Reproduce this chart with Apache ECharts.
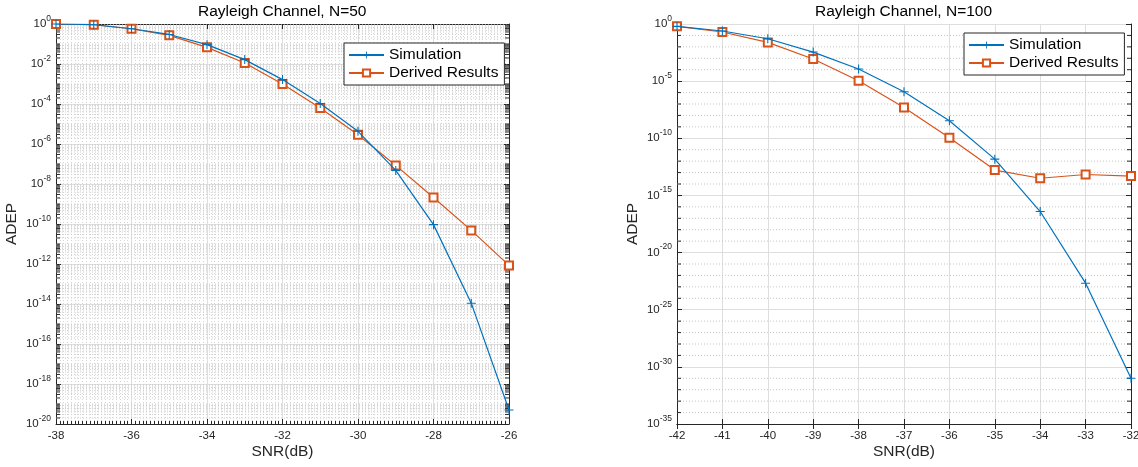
<!DOCTYPE html>
<html><head><meta charset="utf-8">
<script src="https://cdn.jsdelivr.net/npm/echarts@6/dist/echarts.min.js"></script>
<style>html,body{margin:0;padding:0;background:#fff}#c{width:1138px;height:467px}</style>
</head><body><div id="c"></div>
<script>
// ---- data ----
const snr50 = [-38, -37, -36, -35, -34, -33, -32, -31, -30, -29, -28, -27, -26];
const sim50 = [1, 0.92, 0.58, 0.30, 0.093, 0.0166, 1.66e-3, 1.05e-4, 4.3e-6, 4.8e-8, 9.3e-11, 1.1e-14, 5e-20];
const der50 = [1, 0.92, 0.58, 0.27, 0.068, 0.0112, 1.0e-3, 6.3e-5, 2.9e-6, 8.5e-8, 2.1e-9, 4.8e-11, 8.5e-13];
const snr100 = [-42, -41, -40, -39, -38, -37, -36, -35, -34, -33, -32];
const sim100 = [0.62, 0.245, 0.051, 3.5e-3, 1.15e-4, 1.17e-6, 3.4e-9, 1.5e-12, 3.9e-17, 2.1e-23, 1e-31];
const der100 = [0.62, 0.2, 0.0245, 8.7e-4, 1.1e-5, 5e-8, 1.1e-10, 1.65e-13, 3.2e-14, 6.8e-14, 4.9e-14];
const titles = ['Rayleigh Channel, N=50', 'Rayleigh Channel, N=100'];
const seriesNames = ['Simulation', 'Derived Results'];
const xName = 'SNR(dB)';
const yName = 'ADEP';
const yMin50 = 1e-20, yMin100 = 1e-35, yMax = 1;

// ---- styling helpers ----
const FONT = "'Liberation Sans', Arial, Helvetica, sans-serif";
const BLUE = '#0072BD', ORANGE = '#D95319', AX = '#262626';
const PLUS = 'path://M4.4,0h1.2v4.4h4.4v1.2h-4.4v4.4h-1.2v-4.4h-4.4v-1.2h4.4z';

// minor log grid values, left plot: 2..9 per decade plus odd decades
const minor50 = [];
for (let k = -20; k < 0; k++) {
  for (let m = 1; m <= 9; m++) {
    if (m === 1 && k % 2 === 0) continue;
    minor50.push(m * Math.pow(10, k));
  }
}
// minor grid, right plot: each decade not on a major tick
const minor100 = [];
for (let k = -34; k < 0; k++) {
  if (k % 5 !== 0) minor100.push(Math.pow(10, k));
}

function logText(v) {
  const e = Math.round(Math.log10(v));
  return '{b|10}{s|' + e + '}';
}
function logLabel(v) {
  if (!(v > 0) || !isFinite(v)) return '';
  return logText(v);
}
const richLab = {
  b: { fontSize: 11.5, color: AX, fontFamily: FONT, lineHeight: 20 },
  s: { fontSize: 8.5, color: AX, fontFamily: FONT, verticalAlign: 'top', lineHeight: 10 }
};

function xAx(grid, min, max, interval, minor) {
  return [{
    type: 'value', gridIndex: grid, min, max, interval,
    axisLine: { show: true, lineStyle: { color: AX, width: 1 } },
    axisTick: { show: true, inside: true, length: 5, lineStyle: { color: AX } },
    minorTick: { show: !!minor, splitNumber: minor || 5, length: 3, lineStyle: { color: AX } },
    axisLabel: { color: AX, fontSize: 11.5, margin: 6, fontFamily: FONT, showMinLabel: true, showMaxLabel: true },
    splitLine: { show: true, lineStyle: { color: '#dedede', width: 1 } },
    minorSplitLine: { show: !!minor, lineStyle: { color: '#d4d4d4', type: [1, 2], width: 1 } },
    name: xName, nameLocation: 'middle', nameGap: 20, nameMoveOverlap: false,
    nameTextStyle: { color: AX, fontSize: 15.5, fontFamily: FONT }
  }, {
    type: 'value', gridIndex: grid, min, max, interval, position: 'top',
    axisLine: { show: true, lineStyle: { color: AX, width: 1 } },
    axisTick: { show: true, inside: true, length: 5, lineStyle: { color: AX } },
    axisLabel: { show: false }, splitLine: { show: false }
  }];
}
function yAx(grid, min, max, interval, nameGap) {
  return [{
    type: 'log', logBase: 10, gridIndex: grid, min, max, interval,
    axisLine: { show: true, lineStyle: { color: AX, width: 1 } },
    axisTick: { show: true, inside: true, length: 5, lineStyle: { color: AX } },
    minorTick: { show: false },
    axisLabel: { formatter: logLabel, rich: richLab, margin: 5, showMinLabel: true, showMaxLabel: true, hideOverlap: false },
    splitLine: { show: true, lineStyle: { color: '#dedede', width: 1 } },
    minorSplitLine: { show: false },
    name: yName, nameLocation: 'middle', nameGap, nameRotate: 90, nameMoveOverlap: false,
    nameTextStyle: { color: AX, fontSize: 15.5, fontFamily: FONT }
  }, {
    type: 'log', logBase: 10, gridIndex: grid, min, max, interval, position: 'right',
    axisLine: { show: true, lineStyle: { color: AX, width: 1 } },
    axisTick: { show: true, inside: true, length: 5, lineStyle: { color: AX } },
    minorTick: { show: false },
    axisLabel: { show: false }, splitLine: { show: false }
  }];
}

function lineSeries(name, xs, ys, xi, yi, isSim) {
  return {
    name, type: 'line', xAxisIndex: xi, yAxisIndex: yi,
    data: xs.map((x, i) => [x, ys[i]]),
    symbol: isSim ? PLUS : 'emptyRect',
    symbolSize: isSim ? 9 : 8,
    color: isSim ? BLUE : ORANGE,
    itemStyle: isSim ? { color: BLUE } : { color: ORANGE, borderColor: ORANGE, borderWidth: 1.2 },
    lineStyle: { color: isSim ? BLUE : ORANGE, width: 1.2 },
    z: isSim ? 4 : 3
  };
}

function minorSeries(xi, yi, xs, values, tickLen, gridColor) {
  const x0 = xs[0], x1 = xs[xs.length - 1];
  return {
    type: 'custom', xAxisIndex: xi, yAxisIndex: yi, silent: true, z: 1,
    data: values.map(v => [x0, v]),
    renderItem: function (params, api) {
      const v = api.value(1);
      const p0 = api.coord([x0, v]);
      const p1 = api.coord([x1, v]);
      return {
        type: 'group', children: [
          { type: 'line', shape: { x1: p0[0], y1: p0[1], x2: p1[0], y2: p1[1] }, style: { stroke: gridColor, lineDash: [1, 2], lineWidth: 1 } },
          { type: 'line', shape: { x1: p0[0], y1: p0[1], x2: p0[0] + tickLen, y2: p0[1] }, style: { stroke: AX, lineWidth: 1 } },
          { type: 'line', shape: { x1: p1[0] - tickLen, y1: p1[1], x2: p1[0], y2: p1[1] }, style: { stroke: AX, lineWidth: 1 } }
        ]
      };
    }
  };
}

// label for the axis minimum (ECharts rounds this extreme tick value to 0)
function minLabelSeries(xi, yi, x0, vmin) {
  return {
    type: 'custom', xAxisIndex: xi, yAxisIndex: yi, silent: true, z: 5, clip: false,
    data: [[x0, vmin]],
    renderItem: function (params, api) {
      const p = api.coord([api.value(0), api.value(1)]);
      return {
        type: 'text', x: p[0] - 5, y: p[1],
        style: { text: logText(api.value(1)), align: 'right', verticalAlign: 'middle', rich: richLab, fill: AX, fontSize: 11.5, fontFamily: FONT }
      };
    }
  };
}

function legend(left, top) {
  return {
    data: seriesNames, left, top, orient: 'vertical',
    backgroundColor: '#fff', borderColor: AX, borderWidth: 1, borderRadius: 0,
    padding: [4, 6, 4, 4], itemGap: 2, itemWidth: 35, itemHeight: 9,
    textStyle: { color: '#000', fontSize: 15.5, fontFamily: FONT }
  };
}

const chart = echarts.init(document.getElementById('c'), null, { renderer: 'canvas' });
chart.setOption({
  animation: false,
  backgroundColor: '#fff',
  textStyle: { fontFamily: FONT },
  title: [
    { text: titles[0], left: 198, top: 4, padding: 0, textStyle: { fontSize: 15.5, fontWeight: 'normal', color: '#000', fontFamily: FONT } },
    { text: titles[1], left: 815, top: 4, padding: 0, textStyle: { fontSize: 15.5, fontWeight: 'normal', color: '#000', fontFamily: FONT } }
  ],
  legend: [legend(344, 43), legend(964, 33)],
  grid: [
    { left: 56, right: 1138 - 509, top: 24, bottom: 467 - 424, show: false, containLabel: false, outerBoundsMode: 'none' },
    { left: 677, right: 7, top: 24, bottom: 467 - 424, show: false, containLabel: false, outerBoundsMode: 'none' }
  ],
  xAxis: [...xAx(0, -38, -26, 2, 20), ...xAx(1, -42, -32, 1, 0)],
  yAxis: [...yAx(0, yMin50, yMax, 2, 36), ...yAx(1, yMin100, yMax, 5, 36)],
  series: [
    minorSeries(0, 0, snr50, minor50, 4, '#cfcfcf'),
    minorSeries(2, 2, snr100, minor100, 4, '#c4c4c4'),
    minLabelSeries(2, 2, snr100[0], yMin100),
    lineSeries(seriesNames[0], snr50, sim50, 0, 0, true),
    lineSeries(seriesNames[1], snr50, der50, 0, 0, false),
    lineSeries(seriesNames[0], snr100, sim100, 2, 2, true),
    lineSeries(seriesNames[1], snr100, der100, 2, 2, false)
  ]
});
</script>
</body></html>
